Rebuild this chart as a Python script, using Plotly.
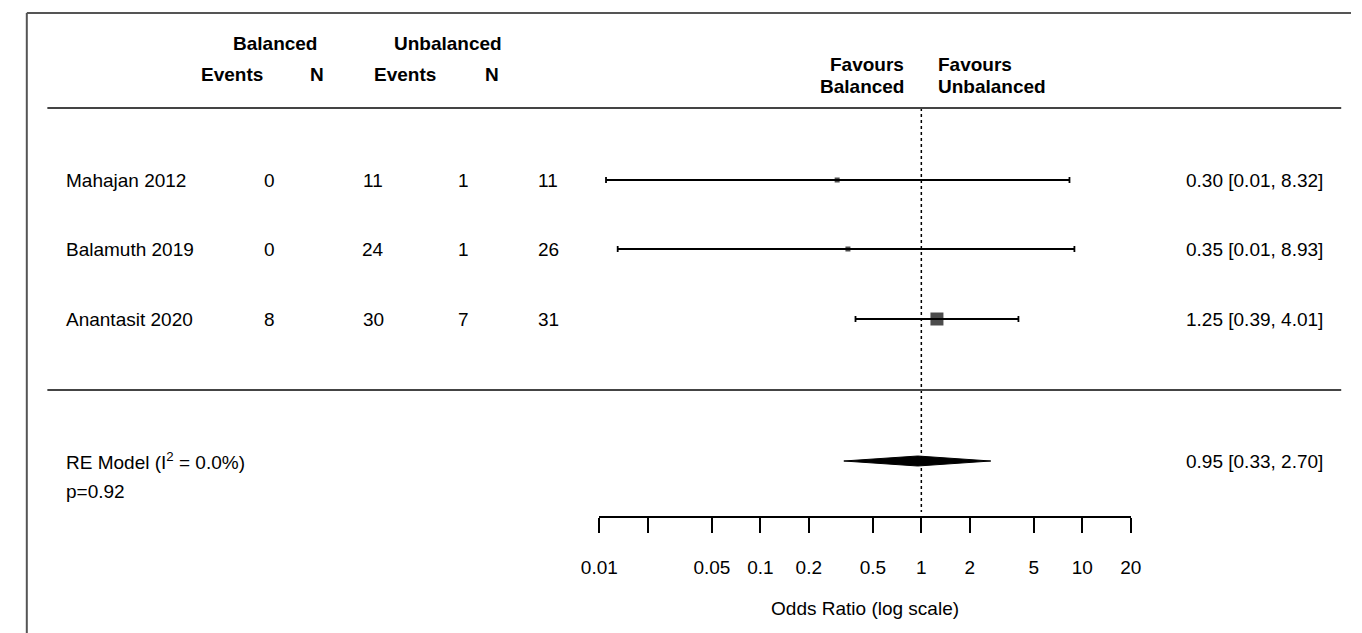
import math
import plotly.graph_objects as go

# ---------------- data ----------------
studies = ["Mahajan 2012", "Balamuth 2019", "Anantasit 2020"]
bal_events = [0, 0, 8]
bal_n = [11, 24, 30]
unbal_events = [1, 1, 7]
unbal_n = [11, 26, 31]
or_est = [0.30, 0.35, 1.25]
or_lo = [0.011, 0.013, 0.39]
or_hi = [8.32, 8.93, 4.01]
pooled_est = 0.95
pooled_lo = 0.33
pooled_hi = 2.70
i2_text = "0.0%"
p_text = "p=0.92"
tick_vals = [0.01, 0.02, 0.05, 0.1, 0.2, 0.5, 1, 2, 5, 10, 20]
tick_text = ["0.01", " ", "0.05", "0.1", "0.2", "0.5", "1", "2", "5", "10", "20"]

# ---------------- layout helpers (pixels) ----------------
W, H = 1362, 633
FONT = "Liberation Sans, Arial, sans-serif"
FS = 19
TXT = "#000000"
row_y = [180, 249, 319]
re_y = 461
marker_sizes = [5, 5, 13]


def px(x):
    return x / W


fig = go.Figure()

# CI lines with caps
fig.add_trace(go.Scatter(
    x=or_est, y=row_y, mode="markers",
    marker=dict(symbol="square", size=marker_sizes, color="black", line=dict(width=0)),
    error_x=dict(type="data", symmetric=False,
                 array=[h - e for h, e in zip(or_hi, or_est)],
                 arrayminus=[e - l for e, l in zip(or_est, or_lo)],
                 color="black", thickness=1.8, width=3),
    hoverinfo="skip", showlegend=False, cliponaxis=False,
))

# pooled diamond
fig.add_trace(go.Scatter(
    x=[pooled_lo, pooled_est, pooled_hi, pooled_est, pooled_lo],
    y=[re_y, re_y - 5, re_y, re_y + 5, re_y],
    mode="lines", fill="toself", fillcolor="black",
    line=dict(color="black", width=1), hoverinfo="skip", showlegend=False,
))

shapes = []
# reference line at OR = 1
shapes.append(dict(type="line", xref="x", yref="y", x0=1, x1=1, y0=108, y1=512,
                   line=dict(color="black", width=1.5, dash="dot")))
# frame border (top and left)
shapes.append(dict(type="line", xref="paper", yref="y", x0=px(9), x1=1, y0=13, y1=13,
                   line=dict(color="#555555", width=2)))
shapes.append(dict(type="line", xref="paper", yref="y", x0=px(9), x1=px(9), y0=13, y1=H,
                   line=dict(color="#555555", width=2)))
# separators
for yy in (108, 390):
    shapes.append(dict(type="line", xref="paper", yref="y", x0=px(30), x1=px(1352), y0=yy, y1=yy,
                       line=dict(color="#444444", width=2)))

ann = []


def text(x, y, s, anchor="center", bold=False):
    ann.append(dict(xref="paper", yref="y", x=px(x), y=y, text=(f"<b>{s}</b>" if bold else s),
                    showarrow=False, xanchor=anchor, yanchor="middle",
                    font=dict(family=FONT, size=FS, color=TXT)))


# headers
text(263, 43, "Balanced", bold=True)
text(439, 43, "Unbalanced", bold=True)
text(219, 74, "Events", bold=True)
text(306, 74, "N", bold=True)
text(395, 74, "Events", bold=True)
text(484, 74, "N", bold=True)
text(907, 64, "Favours", anchor="right", bold=True)
text(907, 86, "Balanced", anchor="right", bold=True)
text(938, 64, "Favours", anchor="left", bold=True)
text(938, 86, "Unbalanced", anchor="left", bold=True)

col_x = [257, 363, 455, 542]
for i, name in enumerate(studies):
    y = row_y[i]
    text(47, y, name, anchor="left")
    text(col_x[0], y, str(bal_events[i]))
    text(col_x[1], y, str(bal_n[i]))
    text(col_x[2], y, str(unbal_events[i]))
    text(col_x[3], y, str(unbal_n[i]))
    text(1335, y, f"{or_est[i]:.2f} [{or_lo[i]:.2f}, {or_hi[i]:.2f}]", anchor="right")

text(47, re_y, f"RE Model (I<sup>2</sup> = {i2_text})", anchor="left")
text(47, 491, p_text, anchor="left")
text(1335, re_y, f"{pooled_est:.2f} [{pooled_lo:.2f}, {pooled_hi:.2f}]", anchor="right")

fig.update_layout(
    width=W, height=H, margin=dict(l=0, r=0, t=0, b=0),
    paper_bgcolor="white", plot_bgcolor="white",
    shapes=shapes, annotations=ann, showlegend=False,
    font=dict(family=FONT, size=FS, color=TXT),
    xaxis=dict(type="log", range=[math.log10(0.01), math.log10(20)],
               domain=[px(594), px(1137)], anchor="free", position=(H - 517) / H,
               showline=True, linecolor="black", linewidth=1.5, mirror=False,
               ticks="outside", ticklen=15, tickwidth=1.5, tickcolor="black",
               tickvals=tick_vals, ticktext=tick_text, showgrid=False, zeroline=False,
               ticklabelstandoff=18,
               tickfont=dict(family=FONT, size=FS, color=TXT),
               title=dict(text="Odds Ratio (log scale)", standoff=24,
                          font=dict(family=FONT, size=FS, color=TXT))),
    yaxis=dict(range=[H, 0], domain=[0, 1], visible=False, showgrid=False, zeroline=False),
)

fig.write_html("out.html", config={"displayModeBar": False},
               post_script="document.body.style.margin='0';document.body.style.overflow='hidden';")
